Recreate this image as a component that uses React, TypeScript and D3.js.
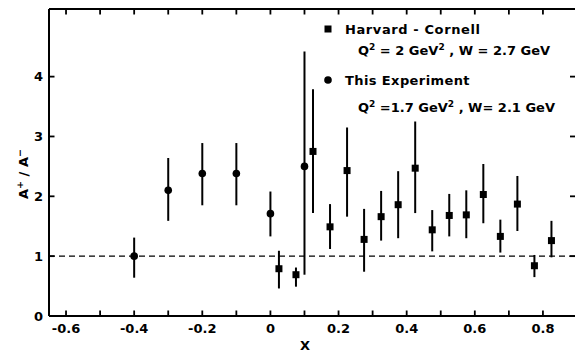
import React from "react";
import * as d3 from "d3";

// Harvard-Cornell measurements (squares)
const hcX = [0.025, 0.075, 0.125, 0.175, 0.225, 0.275, 0.325, 0.375, 0.425, 0.475, 0.525, 0.575, 0.625, 0.675, 0.725, 0.775, 0.825];
const hcY = [0.79, 0.69, 2.75, 1.49, 2.43, 1.28, 1.66, 1.86, 2.47, 1.44, 1.68, 1.69, 2.03, 1.33, 1.87, 0.84, 1.26];
const hcLo = [0.46, 0.49, 1.72, 1.12, 1.66, 0.74, 1.26, 1.30, 1.72, 1.08, 1.33, 1.30, 1.55, 1.06, 1.42, 0.65, 0.98];
const hcHi = [1.09, 0.81, 3.79, 1.87, 3.15, 1.79, 2.09, 2.42, 3.25, 1.77, 2.04, 2.10, 2.54, 1.61, 2.34, 1.02, 1.59];

// This experiment (circles)
const expX = [-0.4, -0.3, -0.2, -0.1, 0.0, 0.1];
const expY = [1.0, 2.1, 2.38, 2.38, 1.71, 2.5];
const expLo = [0.64, 1.59, 1.85, 1.85, 1.33, 0.69];
const expHi = [1.31, 2.64, 2.89, 2.89, 2.08, 4.42];

const xTicks = [-0.6, -0.5, -0.4, -0.3, -0.2, -0.1, 0, 0.1, 0.2, 0.3, 0.4, 0.5, 0.6, 0.7, 0.8];
const xTickLabels = ["-0.6", "-0.4", "-0.2", "0", "0.2", "0.4", "0.6", "0.8"];
const xLabelValues = [-0.6, -0.4, -0.2, 0, 0.2, 0.4, 0.6, 0.8];
const yTicks = [0, 1, 2, 3, 4];

const W = 575;
const H = 356;
const FONT = "DejaVu Sans, sans-serif";

export default function App() {
  const x = d3.scaleLinear().domain([-0.65, 0.9]).range([49, 577]);
  const y = d3.scaleLinear().domain([0, 5.13]).range([316, 9]);
  const x0 = x(-0.65);
  const x1 = x(0.9);
  const yTop = y(5.13);
  const yBot = y(0);
  const tick = 5.5;
  const sq = 7;

  return (
    <svg width={W} height={H} style={{ position: "absolute", left: 0, top: 0, background: "#fff" }}>
      {/* frame */}
      <g stroke="#000" strokeWidth={2} fill="none">
        <line x1={x0} x2={x1} y1={yBot} y2={yBot} />
        <line x1={x0} x2={x1} y1={yTop} y2={yTop} />
        <line x1={x0} x2={x0} y1={yTop} y2={yBot} />
        <line x1={x1} x2={x1} y1={yTop} y2={yBot} />
      </g>
      {/* ticks */}
      <g stroke="#000" strokeWidth={1.8}>
        {xTicks.map((t) => (
          <g key={"xt" + t}>
            <line x1={x(t)} x2={x(t)} y1={yBot} y2={yBot - tick} />
            <line x1={x(t)} x2={x(t)} y1={yTop} y2={yTop + tick} />
          </g>
        ))}
        {yTicks.map((t) => (
          <g key={"yt" + t}>
            <line x1={x0} x2={x0 + tick} y1={y(t)} y2={y(t)} />
            <line x1={x1} x2={x1 - tick - 1.5} y1={y(t)} y2={y(t)} />
          </g>
        ))}
      </g>
      {/* tick labels */}
      <g fontFamily={FONT} fontWeight="bold" fontSize={13} fill="#000">
        {xLabelValues.map((v, i) => (
          <text key={"xl" + v} x={x(v)} y={333} textAnchor="middle">
            {xTickLabels[i]}
          </text>
        ))}
        {yTicks.map((t) => (
          <text key={"yl" + t} x={43} y={y(t) + 4.5} textAnchor="end">
            {t}
          </text>
        ))}
      </g>
      {/* axis titles */}
      <text x={305} y={350} fontFamily={FONT} fontWeight="bold" fontSize={13} textAnchor="middle">
        X
      </text>
      <text
        transform={`translate(28,${174}) rotate(-90)`}
        fontFamily={FONT}
        fontWeight="bold"
        fontSize={13}
        textAnchor="middle"
      >
        A<tspan fontSize={9.5} dy={-5}>+</tspan>
        <tspan dy={5}> / A</tspan>
        <tspan fontSize={9.5} dy={-5}>−</tspan>
      </text>
      {/* reference line at ratio 1 */}
      <line x1={x0} x2={x1} y1={y(1)} y2={y(1)} stroke="#000" strokeWidth={1.2} strokeDasharray="6,4" />
      {/* data points with error bars */}
      <g fill="#000" stroke="#000">
        {hcX.map((v, i) => (
          <g key={"hc" + i}>
            <line x1={x(v)} x2={x(v)} y1={y(hcLo[i])} y2={y(hcHi[i])} strokeWidth={2} />
            <rect x={x(v) - sq / 2} y={y(hcY[i]) - sq / 2} width={sq} height={sq} stroke="none" />
          </g>
        ))}
        {expX.map((v, i) => (
          <g key={"ex" + i}>
            <line x1={x(v)} x2={x(v)} y1={y(expLo[i])} y2={y(expHi[i])} strokeWidth={2} />
            <circle cx={x(v)} cy={y(expY[i])} r={3.8} stroke="none" />
          </g>
        ))}
      </g>
      {/* legend */}
      <g fontFamily={FONT} fontWeight="bold" fontSize={13} fill="#000">
        <rect x={328 - sq / 2} y={29 - sq / 2} width={sq} height={sq} />
        <text x={345} y={34} letterSpacing={0.6}>Harvard - Cornell</text>
        <text x={358} y={55}>
          Q<tspan fontSize={9} dy={-5}>2</tspan>
          <tspan dy={5}> = 2 GeV</tspan>
          <tspan fontSize={9} dy={-5}>2</tspan>
          <tspan dy={5}> ,  W = 2.7 GeV</tspan>
        </text>
        <circle cx={328} cy={80} r={3.8} />
        <text x={345} y={85} letterSpacing={0.4}>This Experiment</text>
        <text x={358} y={112}>
          Q<tspan fontSize={9} dy={-5}>2</tspan>
          <tspan dy={5}> =1.7 GeV</tspan>
          <tspan fontSize={9} dy={-5}>2</tspan>
          <tspan dy={5}> ,  W= 2.1 GeV</tspan>
        </text>
      </g>
    </svg>
  );
}
